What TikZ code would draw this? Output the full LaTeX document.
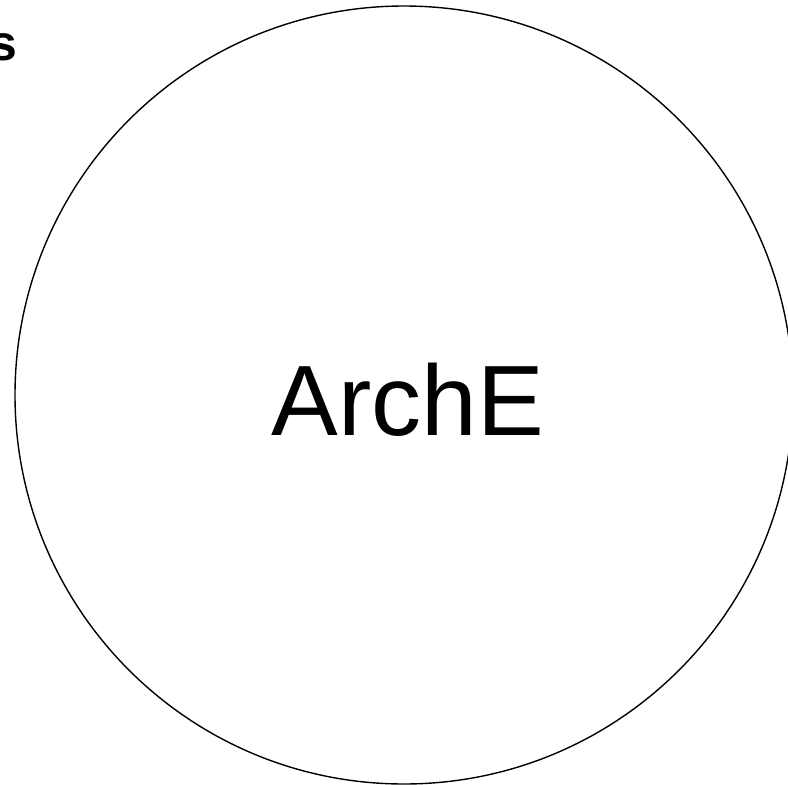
\documentclass[tikz,border=0pt]{standalone}
\usepackage{fontspec}
\setmainfont{Liberation Sans}
\begin{document}
\begin{tikzpicture}[x=1pt,y=-1pt,
  bigcircle/.style={draw=black,line width=1.4pt,circle,minimum size=778pt,inner sep=0pt},
  bigtext/.style={font=\fontsize{100}{110}\selectfont,inner sep=0pt},
  cornertext/.style={font=\fontsize{50}{56}\selectfont\bfseries,inner sep=0pt}]
\useasboundingbox (0,0) rectangle (788,785);
\clip (0,0) rectangle (788,785);
\node[bigcircle] (arche) at (404,395) {};
\node[bigtext,anchor=base] (label) at (408,435) {ArchE};
\node[cornertext,anchor=base east] (s) at (17.5,60) {s};
\end{tikzpicture}
\end{document}
